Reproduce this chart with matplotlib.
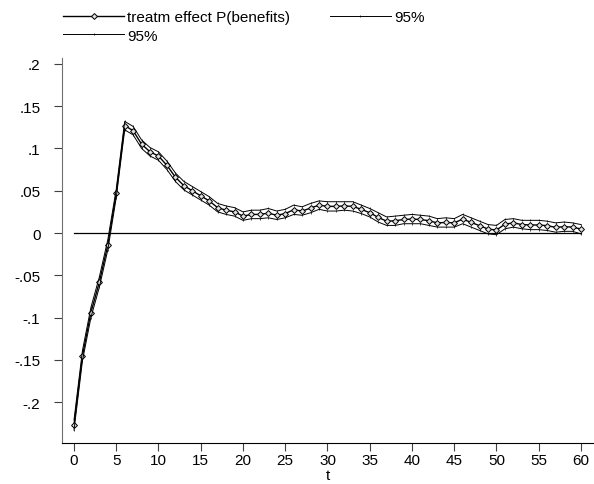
import matplotlib
matplotlib.use("Agg")
import matplotlib.pyplot as plt

plt.rcParams['font.family'] = ['Liberation Sans', 'DejaVu Sans']

t = list(range(61))
effect = [-0.227, -0.145, -0.094, -0.058, -0.014, 0.047, 0.127, 0.121, 0.105, 0.096,
          0.091, 0.080, 0.066, 0.056, 0.050, 0.044, 0.038, 0.030, 0.027, 0.025,
          0.020, 0.022, 0.022, 0.0235, 0.021, 0.023, 0.0275, 0.026, 0.0295, 0.033,
          0.0315, 0.0315, 0.032, 0.0315, 0.028, 0.024, 0.0185, 0.014, 0.0145, 0.016,
          0.0165, 0.016, 0.0145, 0.012, 0.0125, 0.012, 0.0165, 0.0125, 0.0087, 0.0047,
          0.0035, 0.0105, 0.012, 0.010, 0.0095, 0.0095, 0.0087, 0.0067, 0.0075, 0.007,
          0.0047]
upper = [-0.221, -0.139, -0.088, -0.052, -0.008, 0.052, 0.132, 0.126, 0.110, 0.101,
         0.096, 0.085, 0.071, 0.061, 0.055, 0.049, 0.043, 0.035, 0.032, 0.030,
         0.025, 0.027, 0.027, 0.029, 0.026, 0.028, 0.033, 0.031, 0.035, 0.038,
         0.037, 0.037, 0.037, 0.037, 0.033, 0.029, 0.024, 0.019, 0.020, 0.021,
         0.022, 0.021, 0.020, 0.017, 0.018, 0.017, 0.022, 0.018, 0.014, 0.010,
         0.009, 0.016, 0.017, 0.015, 0.015, 0.015, 0.014, 0.012, 0.013, 0.012,
         0.010]
lower = [-0.233, -0.151, -0.100, -0.064, -0.020, 0.042, 0.122, 0.116, 0.100, 0.091,
         0.086, 0.075, 0.061, 0.051, 0.045, 0.039, 0.033, 0.025, 0.022, 0.020,
         0.015, 0.017, 0.017, 0.018, 0.016, 0.018, 0.022, 0.021, 0.024, 0.028,
         0.026, 0.026, 0.027, 0.026, 0.023, 0.019, 0.013, 0.009, 0.009, 0.011,
         0.011, 0.011, 0.009, 0.007, 0.007, 0.007, 0.011, 0.007, 0.003, -0.001,
         -0.002, 0.005, 0.007, 0.005, 0.004, 0.004, 0.003, 0.001, 0.002, 0.002,
         -0.001]
yticks = [0.2, 0.15, 0.1, 0.05, 0, -0.05, -0.1, -0.15, -0.2]
ylabels = ['.2', '.15', '.1', '.05', '0', '-.05', '-.1', '-.15', '-.2']
xticks = list(range(0, 61, 5))

fig = plt.figure(figsize=(5.94, 4.85), dpi=100)
ax = fig.add_axes([62 / 594, 41 / 485, 532 / 594, 385 / 485])

ax.plot([t[0], t[-1]], [0, 0], color='black', lw=0.9)
h_main, = ax.plot(t, effect, color='black', lw=1.0, marker='D', ms=3.0,
                  mfc='#e0e0e0', mec='black', mew=0.7)
h_up, = ax.plot(t, upper, color='black', lw=0.7, marker='|', ms=2.0, mew=0.5)
h_lo, = ax.plot(t, lower, color='black', lw=0.7, marker='|', ms=2.0, mew=0.5)

ax.set_xlim(-1.42, 61.54)
ax.set_ylim(-0.2482, 0.2069)
ax.set_xticks(xticks)
ax.set_yticks(yticks)
ax.set_yticklabels(ylabels)
ax.set_xlabel('t', fontsize=11)
ax.xaxis.set_label_coords(0.5, -0.066)

ax.spines['top'].set_visible(False)
ax.spines['right'].set_visible(False)
ax.spines['left'].set_color('#707070')
ax.spines['bottom'].set_color('black')
ax.tick_params(axis='both', labelsize=11, length=5.5, width=0.8, color='#404040')
ax.tick_params(axis='y', pad=10)
ax.tick_params(axis='x', pad=2)

leg = fig.legend([h_main, h_lo, h_up],
                 ['treatm effect P(benefits)', '95%', '95%'],
                 loc='upper left', bbox_to_anchor=(63 / 594, 1 - 11 / 485),
                 ncol=2, frameon=False, fontsize=11, numpoints=1,
                 handlelength=4.0, handletextpad=0.2, columnspacing=2.6,
                 labelspacing=0.3, borderpad=0, borderaxespad=0)

fig.savefig('out.png', dpi=100)
